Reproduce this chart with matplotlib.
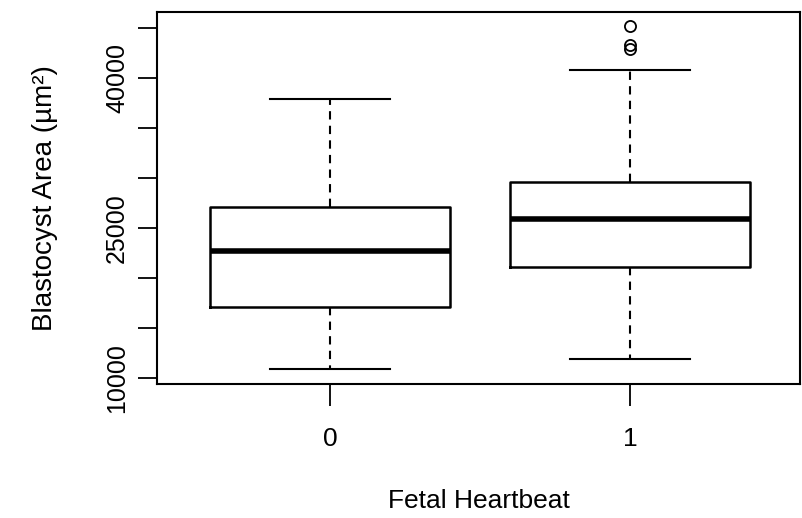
import matplotlib
matplotlib.use("Agg")
import matplotlib.pyplot as plt

# Valores (estadisticos de cada caja)
grupos = ["0", "1"]
bigote_inf = [10900, 11900]
cuartil_1 = [17100, 21100]
mediana = [22700, 25900]
cuartil_3 = [27100, 29600]
bigote_sup = [37900, 40800]
atipicos = [[], [45200, 43300, 42900]]

ticks_y = [10000, 15000, 20000, 25000, 30000, 35000, 40000, 45000]
etiquetas_y = ["10000", "", "", "25000", "", "", "40000", ""]

plt.rcParams['font.family'] = ['Liberation Sans', 'DejaVu Sans']

fig = plt.figure(figsize=(8.03, 5.18), dpi=100)
ax = fig.add_axes([157 / 803, 1 - 384 / 518, (800 - 157) / 803, (384 - 12) / 518])

# Construimos los estadisticos para bxp
stats = []
for i in range(len(grupos)):
    stats.append({
        "whislo": bigote_inf[i], "q1": cuartil_1[i], "med": mediana[i],
        "q3": cuartil_3[i], "whishi": bigote_sup[i], "fliers": atipicos[i],
        "label": grupos[i],
    })

ax.bxp(stats, positions=[1, 2], widths=0.8, showfliers=True,
       boxprops=dict(color="black", linewidth=1.8),
       medianprops=dict(color="black", linewidth=4),
       whiskerprops=dict(color="black", linewidth=1.5, linestyle=(0, (4, 3))),
       capprops=dict(color="black", linewidth=1.5),
       capwidths=0.4,
       flierprops=dict(marker="o", markerfacecolor="none", markeredgecolor="black",
                       markersize=8, markeredgewidth=1.3))

ax.set_xlim(0.423, 2.565)
ax.set_ylim(9400, 46600)
ax.set_yticks(ticks_y)
ax.set_yticklabels(etiquetas_y, rotation=90, va="center", fontsize=18)
ax.set_xticks([1, 2])
ax.set_xticklabels(grupos, fontsize=19)
ax.tick_params(axis="y", length=14, width=1.3, pad=6)
ax.tick_params(axis="x", length=16, width=1.3, pad=15)
for s in ax.spines.values():
    s.set_linewidth(1.5)

ax.set_xlabel("Fetal Heartbeat", fontsize=19, labelpad=27)
ax.set_ylabel("Blastocyst Area (µm²)", fontsize=20, labelpad=34)

fig.savefig("out.png", dpi=100)
